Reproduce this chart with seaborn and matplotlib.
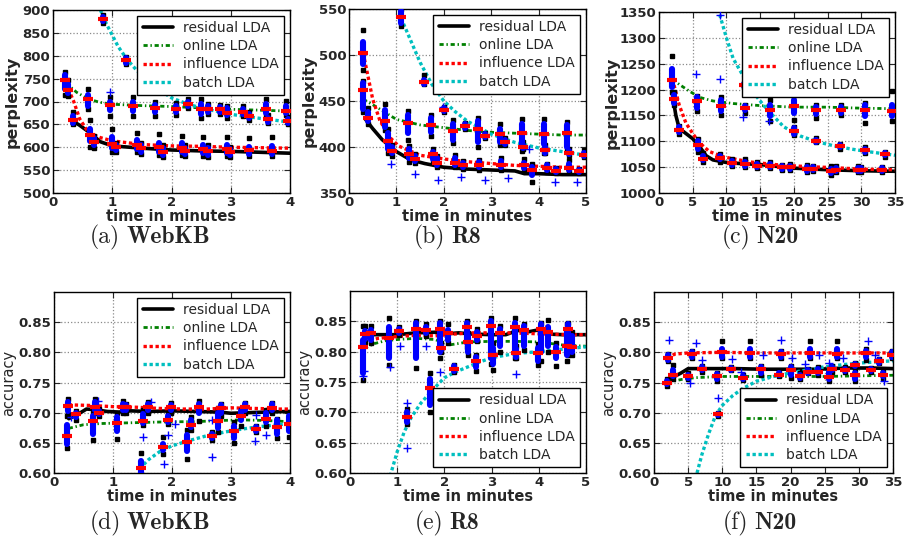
import matplotlib
matplotlib.use("Agg")
import matplotlib.pyplot as plt
import seaborn as sns
import pandas as pd

methods = ["residual LDA", "online LDA", "influence LDA", "batch LDA"]

# ---------------- (a) WebKB perplexity ----------------
curves_a = {
    "residual LDA": ([0.3, 0.45, 0.62, 0.8, 1.0, 1.5, 2.0, 2.5, 3.0, 3.5, 4.0],
                     [660, 648, 632, 612, 603, 598, 594, 592, 591, 589, 587]),
    "online LDA": ([0.22, 0.4, 0.6, 0.8, 1.0, 1.5, 2.0, 2.5, 3.0, 3.5, 4.0],
                   [740, 720, 705, 698, 694, 691, 689, 686, 683, 681, 679]),
    "influence LDA": ([0.2, 0.3, 0.35, 0.45, 0.6, 0.8, 1.0, 1.5, 2.0, 2.5, 3.0, 3.5, 4.0],
                      [752, 715, 700, 662, 632, 621, 614, 606, 603, 602, 600, 599, 598]),
    "batch LDA": ([0.8, 0.9, 1.0, 1.1, 1.25, 1.4, 1.6, 1.8, 2.0, 2.3, 2.6, 3.0, 3.5, 4.0],
                  [900, 870, 845, 820, 792, 770, 745, 725, 708, 693, 683, 672, 663, 655]),
}
# (time, low, q1, median, q3, high)
boxes_a = [
    (0.20, 715, 728, 748, 758, 765), (0.25, 712, 718, 726, 738, 746),
    (0.33, 650, 654, 660, 668, 678), (0.59, 683, 690, 705, 714, 728),
    (0.62, 600, 614, 626, 640, 660), (0.70, 598, 604, 612, 620, 625),
    (0.85, 872, 875, 880, 885, 888), (0.96, 668, 682, 692, 700, 710),
    (1.00, 590, 598, 608, 622, 640), (1.07, 590, 594, 600, 605, 610),
    (1.23, 782, 785, 790, 795, 798), (1.35, 668, 680, 690, 700, 710),
    (1.41, 590, 597, 604, 615, 632), (1.49, 585, 590, 598, 605, 610),
    (1.72, 668, 678, 686, 692, 700), (1.79, 582, 590, 600, 610, 628),
    (1.86, 578, 583, 590, 598, 605), (2.08, 670, 677, 684, 690, 696),
    (2.17, 582, 590, 598, 610, 625), (2.22, 580, 585, 592, 598, 604),
    (2.28, 686, 690, 695, 700, 705), (2.50, 665, 672, 684, 695, 705),
    (2.53, 580, 588, 596, 605, 622), (2.62, 672, 678, 684, 690, 694),
    (2.62, 578, 583, 591, 598, 604), (2.82, 672, 677, 683, 688, 692),
    (2.93, 665, 670, 675, 685, 690), (2.93, 580, 588, 596, 605, 622),
    (2.99, 578, 582, 590, 596, 600), (3.21, 668, 672, 678, 684, 690),
    (3.30, 660, 664, 668, 672, 676), (3.30, 580, 585, 593, 600, 620),
    (3.60, 668, 675, 684, 695, 705), (3.63, 652, 656, 661, 665, 670),
    (3.69, 580, 585, 592, 602, 622), (3.94, 670, 675, 680, 690, 702),
    (3.97, 650, 652, 657, 662, 666),
]
plus_a = [(0.82, 880), (0.96, 720)]

# ---------------- (b) R8 perplexity ----------------
curves_b = {
    "residual LDA": ([0.35, 0.5, 0.7, 1.0, 1.3, 1.6, 2.0, 2.5, 3.0, 3.5, 3.7, 4.0, 4.5, 5.0],
                     [430, 420, 408, 395, 386, 382, 378, 376, 375, 374, 371, 371, 370, 370]),
    "online LDA": ([0.3, 0.5, 0.75, 1.0, 1.5, 2.0, 2.5, 3.0, 3.5, 4.0, 4.5, 5.0],
                   [452, 446, 438, 430, 424, 421, 418, 416, 415, 414, 413, 413]),
    "influence LDA": ([0.3, 0.4, 0.5, 0.65, 0.85, 1.05, 1.5, 2.0, 2.5, 3.0, 3.5, 4.0, 4.5, 5.0],
                      [502, 477, 452, 429, 411, 401, 391, 387, 384, 382, 380, 379, 378, 378]),
    "batch LDA": ([1.1, 1.3, 1.5, 1.75, 2.0, 2.25, 2.5, 2.75, 3.0, 3.5, 4.0, 4.5, 5.0],
                  [540, 516, 492, 468, 450, 438, 428, 421, 414, 405, 399, 395, 391]),
}
boxes_b = [
    (0.29, 438, 441, 462, 470, 472), (0.30, 484, 490, 502, 514, 527),
    (0.41, 425, 428, 432, 438, 442), (0.77, 418, 422, 428, 440, 447),
    (0.82, 393, 398, 406, 415, 420), (0.90, 390, 393, 396, 400, 402),
    (1.10, 532, 535, 541, 548, 550), (1.24, 408, 415, 426, 435, 439),
    (1.27, 384, 388, 392, 398, 401), (1.40, 383, 385, 387, 390, 392),
    (1.59, 468, 469, 471, 473, 478), (1.74, 412, 416, 424, 432, 435),
    (1.77, 385, 387, 392, 395, 398), (1.85, 378, 380, 383, 388, 390),
    (2.00, 438, 439, 440, 442, 443), (2.20, 404, 408, 417, 425, 429),
    (2.23, 378, 380, 383, 388, 391), (2.40, 376, 378, 380, 383, 385),
    (2.45, 420, 421, 423, 425, 426), (2.72, 400, 405, 420, 428, 432),
    (2.75, 375, 378, 380, 384, 386), (2.87, 410, 411, 412, 414, 415),
    (3.18, 402, 405, 414, 420, 425), (3.20, 375, 378, 380, 385, 388),
    (3.30, 402, 403, 405, 408, 410), (3.64, 396, 400, 415, 425, 430),
    (3.68, 398, 399, 400, 402, 405), (3.70, 375, 377, 380, 383, 387),
    (3.87, 362, 370, 375, 378, 381), (4.12, 394, 403, 414, 425, 430),
    (4.14, 393, 394, 397, 400, 402), (4.18, 373, 375, 377, 380, 382),
    (4.37, 372, 373, 374, 376, 377), (4.60, 397, 400, 415, 424, 427),
    (4.64, 391, 392, 393, 396, 398), (4.65, 373, 375, 377, 381, 386),
    (4.85, 372, 373, 374, 375, 376), (4.96, 389, 390, 391, 394, 397),
]
plus_b = [(0.89, 382), (1.39, 371), (1.88, 364), (1.99, 444), (2.37, 367),
          (2.87, 364), (3.36, 366), (4.35, 362), (4.8, 362), (3.8, 398)]

# ---------------- (c) N20 perplexity ----------------
curves_c = {
    "residual LDA": ([2, 2.5, 3, 4, 5, 6, 7, 8, 10, 12, 15, 20, 25, 30, 35],
                     [1190, 1150, 1125, 1115, 1105, 1090, 1072, 1064, 1059, 1057, 1055, 1048, 1045, 1043, 1042]),
    "online LDA": ([2, 3, 4.5, 6, 8, 11, 15, 20, 25, 30, 35],
                   [1220, 1210, 1197, 1185, 1178, 1173, 1169, 1166, 1166, 1164, 1163]),
    "influence LDA": ([2, 3, 4, 5, 6, 7.5, 9.5, 13.5, 18, 22, 26, 30, 35],
                      [1220, 1170, 1135, 1115, 1097, 1080, 1070, 1060, 1054, 1051, 1049, 1046, 1045]),
    "batch LDA": ([9, 10, 11, 12.5, 14, 16, 18.5, 21, 23.5, 26, 28.5, 31, 35],
                  [1345, 1300, 1260, 1226, 1194, 1162, 1128, 1110, 1099, 1091, 1085, 1080, 1073]),
}
boxes_c = [
    (2.0, 1195, 1205, 1218, 1240, 1265), (2.2, 1170, 1175, 1182, 1190, 1195),
    (3.0, 1115, 1118, 1122, 1128, 1130), (5.6, 1158, 1165, 1178, 1185, 1188),
    (5.8, 1080, 1085, 1093, 1100, 1105), (6.5, 1060, 1063, 1065, 1072, 1078),
    (9.2, 1150, 1158, 1168, 1180, 1185), (9.0, 1060, 1065, 1068, 1072, 1075),
    (10.8, 1052, 1055, 1058, 1062, 1065), (12.8, 1155, 1160, 1165, 1168, 1170),
    (12.6, 1205, 1206, 1208, 1210, 1212), (12.8, 1050, 1053, 1056, 1060, 1065),
    (14.5, 1048, 1050, 1053, 1057, 1060), (16.5, 1140, 1148, 1160, 1170, 1180),
    (16.5, 1048, 1050, 1053, 1057, 1060), (18.2, 1045, 1046, 1050, 1053, 1055),
    (20.0, 1142, 1155, 1168, 1180, 1190), (20.0, 1112, 1115, 1120, 1125, 1128),
    (19.5, 1045, 1046, 1050, 1053, 1056), (22.0, 1040, 1042, 1046, 1050, 1055),
    (23.3, 1145, 1152, 1160, 1167, 1170), (23.3, 1098, 1099, 1101, 1103, 1106),
    (22.8, 1042, 1044, 1047, 1050, 1053), (25.5, 1035, 1038, 1042, 1047, 1052),
    (26.2, 1040, 1042, 1045, 1048, 1052), (27.0, 1150, 1155, 1160, 1167, 1170),
    (26.9, 1086, 1088, 1090, 1093, 1095), (29.5, 1040, 1042, 1045, 1048, 1052),
    (30.5, 1135, 1148, 1160, 1170, 1175), (30.5, 1078, 1080, 1083, 1086, 1088),
    (30.0, 1040, 1042, 1045, 1048, 1050), (33.0, 1040, 1042, 1045, 1048, 1050),
    (33.5, 1070, 1073, 1075, 1078, 1080), (34.5, 1140, 1148, 1158, 1170, 1198),
]
plus_c = [(5.55, 1231), (9.0, 1220), (9.1, 1345), (12.5, 1147), (16.3, 1140)]

# ---------------- (d) WebKB accuracy ----------------
curves_d = {
    "residual LDA": ([0.25, 0.4, 0.55, 0.7, 0.9, 1.1, 1.3, 1.6, 2.0, 2.4, 2.8, 3.0, 3.3, 3.6, 4.0],
                     [0.690, 0.697, 0.706, 0.705, 0.702, 0.701, 0.703, 0.702, 0.703, 0.702, 0.701, 0.699, 0.700, 0.701, 0.702]),
    "online LDA": ([0.25, 0.5, 0.8, 1.2, 1.6, 2.0, 2.4, 2.8, 3.2, 3.6, 4.0],
                   [0.674, 0.680, 0.682, 0.683, 0.684, 0.685, 0.685, 0.687, 0.688, 0.687, 0.685]),
    "influence LDA": ([0.25, 0.6, 1.0, 1.4, 1.8, 2.2, 2.6, 3.0, 3.4, 3.8, 4.0],
                      [0.713, 0.712, 0.710, 0.709, 0.707, 0.706, 0.706, 0.708, 0.707, 0.706, 0.706]),
    "batch LDA": ([1.45, 1.6, 1.8, 2.0, 2.3, 2.6, 2.9, 3.2, 3.5, 3.8, 4.0],
                  [0.607, 0.622, 0.636, 0.645, 0.654, 0.662, 0.668, 0.673, 0.677, 0.680, 0.682]),
}
boxes_d = [
    (0.22, 0.641, 0.648, 0.662, 0.680, 0.695), (0.24, 0.698, 0.703, 0.711, 0.717, 0.722),
    (0.37, 0.688, 0.692, 0.697, 0.700, 0.702), (0.66, 0.654, 0.665, 0.686, 0.695, 0.700),
    (0.70, 0.700, 0.705, 0.710, 0.717, 0.722), (0.77, 0.695, 0.697, 0.700, 0.703, 0.706),
    (1.07, 0.656, 0.670, 0.683, 0.692, 0.700), (1.17, 0.700, 0.705, 0.710, 0.715, 0.720),
    (1.22, 0.700, 0.705, 0.709, 0.712, 0.714), (1.50, 0.680, 0.683, 0.686, 0.698, 0.704),
    (1.60, 0.700, 0.705, 0.709, 0.714, 0.718), (1.47, 0.598, 0.600, 0.609, 0.620, 0.633),
    (1.85, 0.632, 0.638, 0.643, 0.648, 0.659), (1.93, 0.682, 0.685, 0.688, 0.695, 0.700),
    (1.98, 0.700, 0.704, 0.709, 0.713, 0.716), (2.26, 0.624, 0.636, 0.651, 0.663, 0.672),
    (2.33, 0.672, 0.676, 0.680, 0.688, 0.692), (2.45, 0.686, 0.700, 0.709, 0.715, 0.720),
    (2.67, 0.655, 0.658, 0.661, 0.665, 0.668), (2.78, 0.668, 0.675, 0.686, 0.700, 0.708),
    (2.83, 0.695, 0.700, 0.707, 0.712, 0.715), (3.05, 0.650, 0.658, 0.670, 0.678, 0.685),
    (3.17, 0.678, 0.688, 0.695, 0.702, 0.705), (3.23, 0.700, 0.704, 0.710, 0.714, 0.716),
    (3.43, 0.668, 0.670, 0.673, 0.676, 0.678), (3.60, 0.678, 0.684, 0.690, 0.700, 0.705),
    (3.70, 0.700, 0.705, 0.708, 0.714, 0.716), (3.78, 0.658, 0.665, 0.677, 0.688, 0.690),
    (3.98, 0.660, 0.670, 0.682, 0.695, 0.700),
]
plus_d = [(0.28, 0.693), (0.74, 0.719), (1.65, 0.718), (1.51, 0.660), (1.93, 0.663),
          (1.86, 0.615), (2.05, 0.681), (2.67, 0.627), (2.67, 0.688), (3.41, 0.653),
          (3.43, 0.696), (3.6, 0.663)]

# ---------------- (e) R8 accuracy ----------------
curves_e = {
    "residual LDA": ([0.3, 0.6, 1.0, 1.4, 1.8, 2.0, 2.3, 2.6, 3.0, 3.3, 3.55, 3.8, 4.0, 4.2, 4.5, 5.0],
                     [0.828, 0.828, 0.828, 0.831, 0.832, 0.829, 0.831, 0.829, 0.828, 0.828, 0.835, 0.833, 0.836, 0.829, 0.828, 0.828]),
    "online LDA": ([0.3, 0.5, 0.75, 1.0, 1.4, 1.8, 2.1, 2.5, 3.0, 3.5, 4.0, 4.5, 5.0],
                   [0.805, 0.813, 0.818, 0.820, 0.822, 0.820, 0.811, 0.816, 0.817, 0.817, 0.816, 0.811, 0.809]),
    "influence LDA": ([0.3, 0.6, 1.0, 1.4, 1.8, 2.2, 2.6, 3.0, 3.4, 3.8, 4.2, 4.6, 5.0],
                      [0.816, 0.822, 0.825, 0.827, 0.826, 0.829, 0.831, 0.831, 0.831, 0.830, 0.829, 0.828, 0.828]),
    "batch LDA": ([0.85, 1.0, 1.15, 1.3, 1.5, 1.75, 2.0, 2.25, 2.5, 2.75, 3.0, 3.5, 4.0, 4.5, 5.0],
                  [0.595, 0.635, 0.668, 0.692, 0.715, 0.737, 0.757, 0.767, 0.775, 0.783, 0.790, 0.797, 0.800, 0.804, 0.808]),
}
boxes_e = [
    (0.28, 0.753, 0.765, 0.807, 0.820, 0.842), (0.32, 0.816, 0.821, 0.829, 0.834, 0.842),
    (0.45, 0.815, 0.820, 0.831, 0.836, 0.842), (0.82, 0.778, 0.790, 0.822, 0.840, 0.855),
    (1.03, 0.828, 0.830, 0.834, 0.838, 0.840), (1.20, 0.680, 0.684, 0.692, 0.700, 0.705),
    (1.39, 0.773, 0.790, 0.838, 0.848, 0.850), (1.60, 0.825, 0.830, 0.835, 0.840, 0.845),
    (1.70, 0.700, 0.712, 0.740, 0.755, 0.765), (1.90, 0.790, 0.800, 0.838, 0.848, 0.850),
    (1.92, 0.800, 0.802, 0.806, 0.810, 0.815), (2.07, 0.815, 0.820, 0.830, 0.836, 0.845),
    (2.20, 0.766, 0.768, 0.772, 0.776, 0.778), (2.47, 0.808, 0.815, 0.841, 0.848, 0.850),
    (2.49, 0.795, 0.800, 0.816, 0.825, 0.830), (2.67, 0.768, 0.775, 0.785, 0.792, 0.795),
    (2.70, 0.818, 0.820, 0.825, 0.832, 0.838), (2.98, 0.780, 0.790, 0.842, 0.850, 0.855),
    (3.03, 0.770, 0.780, 0.795, 0.806, 0.815), (3.17, 0.800, 0.810, 0.830, 0.838, 0.842),
    (3.50, 0.790, 0.798, 0.840, 0.848, 0.856), (3.52, 0.790, 0.792, 0.797, 0.805, 0.810),
    (3.68, 0.803, 0.810, 0.835, 0.842, 0.845), (3.98, 0.778, 0.785, 0.797, 0.806, 0.812),
    (4.05, 0.785, 0.800, 0.838, 0.845, 0.848), (4.20, 0.800, 0.810, 0.832, 0.840, 0.852),
    (4.37, 0.776, 0.790, 0.800, 0.808, 0.815), (4.60, 0.784, 0.795, 0.810, 0.835, 0.845),
    (4.62, 0.795, 0.802, 0.838, 0.845, 0.848), (4.70, 0.795, 0.800, 0.807, 0.825, 0.832),
]
plus_e = [(0.30, 0.768), (0.28, 0.760), (0.84, 0.774), (1.05, 0.810), (1.20, 0.715),
          (1.20, 0.642), (1.60, 0.810), (1.90, 0.767), (3.52, 0.764)]

# ---------------- (f) N20 accuracy ----------------
curves_f = {
    "residual LDA": ([2, 3, 4, 5, 8, 12, 16, 20, 24, 28, 32, 35],
                     [0.752, 0.760, 0.766, 0.773, 0.773, 0.773, 0.772, 0.772, 0.772, 0.774, 0.774, 0.773]),
    "online LDA": ([2, 4, 6, 10, 15, 20, 25, 30, 35],
                   [0.750, 0.755, 0.758, 0.760, 0.760, 0.760, 0.760, 0.761, 0.762]),
    "influence LDA": ([2, 3, 5, 10, 15, 20, 25, 30, 35],
                      [0.790, 0.797, 0.799, 0.800, 0.799, 0.799, 0.799, 0.799, 0.799]),
    "batch LDA": ([6.3, 7, 8, 9, 10, 11.5, 13, 15, 17.5, 20, 22.5, 25, 28, 31, 35],
                  [0.600, 0.630, 0.665, 0.695, 0.712, 0.728, 0.740, 0.752, 0.760, 0.766, 0.771, 0.776, 0.780, 0.783, 0.786]),
}
boxes_f = [
    (2.1, 0.786, 0.788, 0.791, 0.795, 0.797), (1.9, 0.745, 0.747, 0.750, 0.753, 0.756),
    (2.8, 0.756, 0.760, 0.762, 0.770, 0.779), (5.0, 0.755, 0.757, 0.760, 0.763, 0.766),
    (5.5, 0.790, 0.793, 0.797, 0.800, 0.802), (7.0, 0.768, 0.770, 0.772, 0.775, 0.777),
    (9.2, 0.753, 0.756, 0.760, 0.764, 0.766), (9.4, 0.695, 0.696, 0.697, 0.698, 0.700),
    (10.0, 0.790, 0.793, 0.800, 0.805, 0.819), (11.3, 0.770, 0.771, 0.772, 0.774, 0.776),
    (13.0, 0.754, 0.756, 0.758, 0.760, 0.762), (14.0, 0.790, 0.793, 0.799, 0.805, 0.819),
    (15.7, 0.762, 0.766, 0.773, 0.776, 0.778), (18.3, 0.760, 0.762, 0.763, 0.765, 0.766),
    (18.6, 0.790, 0.792, 0.797, 0.800, 0.802), (20.0, 0.758, 0.762, 0.771, 0.775, 0.777),
    (21.4, 0.755, 0.757, 0.760, 0.763, 0.765), (22.5, 0.765, 0.766, 0.768, 0.770, 0.772),
    (22.8, 0.790, 0.793, 0.799, 0.805, 0.819), (24.0, 0.762, 0.765, 0.768, 0.772, 0.775),
    (25.7, 0.752, 0.755, 0.759, 0.768, 0.772), (26.1, 0.768, 0.770, 0.773, 0.776, 0.778),
    (26.8, 0.790, 0.792, 0.798, 0.806, 0.819), (27.9, 0.768, 0.769, 0.771, 0.773, 0.775),
    (29.5, 0.752, 0.756, 0.762, 0.766, 0.770), (29.5, 0.776, 0.777, 0.779, 0.781, 0.783),
    (31.0, 0.788, 0.792, 0.799, 0.802, 0.805), (31.8, 0.768, 0.769, 0.770, 0.772, 0.774),
    (33.0, 0.782, 0.783, 0.785, 0.787, 0.789), (33.5, 0.758, 0.760, 0.762, 0.765, 0.768),
    (34.8, 0.790, 0.792, 0.795, 0.800, 0.803),
]
plus_f = [(2.2, 0.821), (6.1, 0.815), (7.0, 0.787), (5.3, 0.750), (9.3, 0.724),
          (11.4, 0.789), (12.8, 0.767), (16.0, 0.796), (18.6, 0.820), (20.2, 0.791),
          (22.1, 0.780), (24.2, 0.796), (25.6, 0.783), (27.7, 0.791), (31.4, 0.818),
          (33.7, 0.753), (32.3, 0.795)]

captions = [("(a)", "WebKB"), ("(b)", "R8"), ("(c)", "N20"),
            ("(d)", "WebKB"), ("(e)", "R8"), ("(f)", "N20")]

line_styles = {
    "residual LDA": dict(color="k", lw=2.6, ls="-"),
    "online LDA": dict(color=(0, 0.5, 0), lw=2.0, ls=(0, (1.5, 1.0, 0.5, 1.0))),
    "influence LDA": dict(color=(1, 0, 0), lw=2.4, ls=(0, (1, 0.8))),
    "batch LDA": dict(color=(0, 0.75, 0.75), lw=2.4, ls=(0, (1, 0.8))),
}

sns.set_style("ticks")
plt.rcParams["font.family"] = ["DejaVu Sans"]

W, H = 909, 542
fig = plt.figure(figsize=(W / 100, H / 100), dpi=100)


def make_axes(l, t, r, b):
    return fig.add_axes([l / W, 1 - b / H, (r - l) / W, (b - t) / H])


def draw_panel(ax, curves, boxes, pluses, xlim, xticks, ylim, yticks, ylabel,
               ylabel_bold, legend_loc, ylabel_x, yfmt):
    for m in methods:
        xs, ys = curves[m]
        st = line_styles[m]
        sns.lineplot(x=xs, y=ys, ax=ax, color=st["color"], lw=st["lw"],
                     linestyle=st["ls"], label=m, legend=False, sort=False,
                     estimator=None, zorder=2)
    b = pd.DataFrame(boxes, columns=["x", "lo", "q1", "med", "q3", "hi"])
    ax.plot(pd.concat([b.x, b.x]), pd.concat([b.lo, b.hi]), ls="none",
            marker="s", ms=3.4, color="k", mec="k", zorder=3)
    ax.vlines(b.x, b.q1, b.q3, color="b", lw=4.4, zorder=4, capstyle="round")
    ax.plot(b.x, b.med, ls="none", marker="_", ms=6.5, mew=3, color="r", zorder=5)
    p = pd.DataFrame(pluses, columns=["x", "y"])
    ax.plot(p.x, p.y, ls="none", marker="+", ms=6, mew=1, color="b", zorder=4)

    ax.set_xlim(*xlim)
    ax.set_ylim(*ylim)
    ax.set_xticks(xticks)
    ax.set_yticks(yticks)
    ax.set_yticklabels([yfmt.format(v) for v in yticks])
    ax.grid(True, color="#8a8a8a", ls=":", lw=0.9)
    ax.tick_params(direction="in", top=True, right=True, length=4, width=0.8,
                   labelsize=9.5, pad=2)
    for lab in ax.get_xticklabels() + ax.get_yticklabels():
        lab.set_fontweight("bold")
    for s in ax.spines.values():
        s.set_color("k")
        s.set_linewidth(1.0)
    ax.set_xlabel("time in minutes", fontsize=10.5, fontweight="bold", labelpad=0)
    ax.set_ylabel(ylabel, fontsize=11.5 if ylabel_bold else 10.5,
                  fontweight="bold" if ylabel_bold else "normal")
    ax.yaxis.set_label_coords(ylabel_x, 0.5)
    leg = ax.legend(loc=legend_loc, fontsize=10, frameon=True, fancybox=False,
                    handlelength=2.2, handletextpad=0.7, labelspacing=0.3,
                    borderaxespad=0.4, borderpad=0.4)
    leg.get_frame().set_edgecolor("k")
    leg.get_frame().set_linewidth(1.0)
    leg.get_frame().set_alpha(1)
    leg.set_zorder(10)


ax_a = make_axes(53, 10, 290, 193)
draw_panel(ax_a, curves_a, boxes_a, plus_a, (0, 4), range(0, 5), (500, 900),
           list(range(500, 901, 50)), "perplexity", True, "upper right", -0.139, "{:.0f}")
ax_b = make_axes(349, 9, 586, 193)
draw_panel(ax_b, curves_b, boxes_b, plus_b, (0, 5), range(0, 6), (350, 550),
           list(range(350, 551, 50)), "perplexity", True, "upper right", -0.135, "{:.0f}")
ax_c = make_axes(659, 12, 895, 193)
draw_panel(ax_c, curves_c, boxes_c, plus_c, (0, 35), range(0, 36, 5), (1000, 1350),
           list(range(1000, 1351, 50)), "perplexity", True, "upper right", -0.165, "{:.0f}")
acc_ticks = [0.60, 0.65, 0.70, 0.75, 0.80, 0.85]
ax_d = make_axes(54, 292, 290, 473)
draw_panel(ax_d, curves_d, boxes_d, plus_d, (0, 4), range(0, 5), (0.6, 0.9),
           acc_ticks, "accuracy", False, "upper right", -0.161, "{:.2f}")
ax_e = make_axes(350, 291, 586, 473)
draw_panel(ax_e, curves_e, boxes_e, plus_e, (0, 5), range(0, 6), (0.6, 0.9),
           acc_ticks, "accuracy", False, "lower right", -0.161, "{:.2f}")
ax_f = make_axes(654, 292, 893, 473)
draw_panel(ax_f, curves_f, boxes_f, plus_f, (0, 35), range(0, 36, 5), (0.6, 0.9),
           acc_ticks, "accuracy", False, "lower right", -0.159, "{:.2f}")

# sub-captions: "(a)" in roman, dataset name in bold serif, centred as a pair
cap_pos = [(150, 237), (447, 237), (760, 237), (150, 523), (447, 523), (760, 523)]
renderer = fig.canvas.get_renderer()
gap = 6
for (tag, name), (cx, cy) in zip(captions, cap_pos):
    t1 = fig.text(0, 1 - cy / H, tag, family="cmr10", fontsize=17,
                  ha="left", va="center")
    t2 = fig.text(0, 1 - cy / H, name, family="cmb10", fontsize=17,
                  ha="left", va="center")
    w1 = t1.get_window_extent(renderer).width
    w2 = t2.get_window_extent(renderer).width
    start = cx - (w1 + gap + w2) / 2
    t1.set_x(start / W)
    t2.set_x((start + w1 + gap) / W)

fig.savefig("out.png", dpi=100)
